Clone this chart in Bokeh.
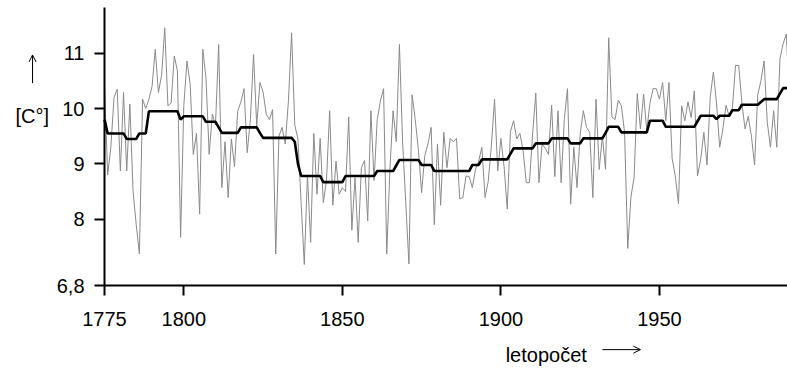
from bokeh.plotting import figure
from bokeh.models import FixedTicker, Label, Arrow, OpenHead
from bokeh.embed import file_html
from bokeh.resources import INLINE

years = list(range(1775, 1992))

annual = [
    10.4, 8.8, 9.3, 10.2, 10.35, 8.87, 10.29, 8.87, 10.08, 8.5,
    7.9, 7.37, 10.17, 10.0, 10.17, 10.4, 11.07, 10.29, 10.6, 11.46,
    10.05, 10.1, 10.95, 10.68, 7.67, 10.05, 10.86, 10.45, 9.17, 9.55,
    8.09, 11.07, 10.55, 9.17, 9.9, 9.7, 11.16, 8.57, 9.4, 8.39,
    9.45, 8.95, 9.95, 10.12, 10.36, 9.2, 9.8, 10.98, 9.68, 10.47,
    10.3, 9.9, 9.8, 9.98, 7.37, 9.5, 9.66, 9.36, 10.14, 11.37,
    9.7, 9.45, 8.3, 7.18, 8.8, 7.58, 9.55, 8.45, 9.46, 8.3,
    8.7, 9.96, 8.25, 9.05, 8.45, 8.57, 8.5, 9.85, 7.8, 8.75,
    7.58, 8.93, 9.06, 7.97, 9.96, 8.7, 9.8, 10.14, 10.36, 7.37,
    8.9, 9.96, 9.4, 11.16, 9.4, 8.3, 7.19, 10.25, 9.8, 9.24,
    8.48, 9.15, 9.36, 9.66, 7.9, 9.36, 8.25, 9.57, 8.93, 9.46,
    9.4, 9.46, 8.37, 8.39, 8.78, 8.77, 8.57, 8.9, 9.05, 9.3,
    8.39, 8.68, 9.33, 10.17, 8.87, 9.46, 8.95, 8.18, 9.58, 9.78,
    9.45, 9.55, 9.24, 8.66, 8.66, 9.54, 10.28, 8.66, 9.36, 9.28,
    9.17, 10.06, 8.77, 9.96, 8.66, 9.81, 10.36, 8.27, 9.3, 8.57,
    9.54, 9.96, 9.66, 9.57, 8.39, 10.17, 8.9, 9.5, 8.9, 11.28,
    9.85, 9.8, 10.15, 10.05, 9.57, 7.47, 8.4, 8.75, 10.27, 9.63,
    10.26, 9.6, 10.1, 10.36, 10.36, 10.17, 10.47, 9.78, 10.47, 9.1,
    8.78, 8.28, 10.05, 9.78, 10.12, 9.84, 10.32, 8.78, 9.08, 9.57,
    8.98, 10.2, 10.66, 10.1, 9.3, 9.63, 10.06, 9.86, 10.01, 10.78,
    10.78, 10.1, 9.63, 9.86, 9.5, 8.98, 10.25, 10.5, 10.86, 9.75,
    9.3, 9.96, 9.3, 10.9, 11.17, 11.35, 10.2,
]

trend = [
    9.8, 9.55, 9.55, 9.55, 9.55, 9.55, 9.55, 9.45, 9.45, 9.45,
    9.45, 9.55, 9.55, 9.55, 9.95, 9.95, 9.95, 9.95, 9.95, 9.95,
    9.95, 9.95, 9.95, 9.95, 9.8, 9.86, 9.86, 9.86, 9.86, 9.86,
    9.86, 9.86, 9.76, 9.76, 9.76, 9.76, 9.66, 9.56, 9.56, 9.56,
    9.56, 9.56, 9.56, 9.66, 9.66, 9.66, 9.66, 9.66, 9.66, 9.56,
    9.47, 9.47, 9.47, 9.47, 9.47, 9.47, 9.47, 9.47, 9.47, 9.47,
    9.4, 9.0, 8.78, 8.78, 8.78, 8.78, 8.78, 8.78, 8.78, 8.67,
    8.67, 8.67, 8.67, 8.67, 8.67, 8.67, 8.78, 8.78, 8.78, 8.78,
    8.78, 8.78, 8.78, 8.78, 8.78, 8.78, 8.87, 8.87, 8.87, 8.87,
    8.87, 8.87, 8.97, 9.07, 9.07, 9.07, 9.07, 9.07, 9.07, 9.07,
    8.98, 8.98, 8.98, 8.98, 8.87, 8.87, 8.87, 8.87, 8.87, 8.87,
    8.87, 8.87, 8.87, 8.87, 8.87, 8.87, 8.98, 8.98, 8.98, 9.08,
    9.08, 9.08, 9.08, 9.08, 9.08, 9.08, 9.08, 9.08, 9.18, 9.28,
    9.28, 9.28, 9.28, 9.28, 9.28, 9.28, 9.37, 9.37, 9.37, 9.37,
    9.37, 9.46, 9.46, 9.46, 9.46, 9.46, 9.46, 9.37, 9.37, 9.37,
    9.37, 9.46, 9.46, 9.46, 9.46, 9.46, 9.46, 9.46, 9.56, 9.67,
    9.67, 9.67, 9.67, 9.57, 9.57, 9.57, 9.57, 9.57, 9.57, 9.57,
    9.57, 9.57, 9.78, 9.78, 9.78, 9.78, 9.78, 9.67, 9.67, 9.67,
    9.67, 9.67, 9.67, 9.67, 9.67, 9.67, 9.67, 9.77, 9.87, 9.87,
    9.87, 9.87, 9.87, 9.81, 9.87, 9.87, 9.87, 9.87, 9.97, 9.97,
    9.97, 10.07, 10.07, 10.07, 10.07, 10.07, 10.07, 10.12, 10.17, 10.17,
    10.17, 10.17, 10.17, 10.27, 10.37, 10.37, 10.37,
]

x_ticks = [1775, 1800, 1850, 1900, 1950]
y_ticks = [6.8, 8, 9, 10, 11]
y_tick_labels = {6.8: "6,8", 8: "8", 9: "9", 10: "10", 11: "11"}
y_unit_label = "[C°]"
x_axis_label = "letopočet"

FONT = "Liberation Sans"

# frame spans the whole canvas; axes are pinned at 1775 / 6.8
p = figure(width=787, height=369, output_backend="svg", toolbar_location=None,
           x_range=(1742.2, 1990.38), y_range=(5.281, 11.954),
           min_border_left=0, min_border_right=0, min_border_top=0,
           min_border_bottom=0)
p.outline_line_color = None
p.xgrid.visible = False
p.ygrid.visible = False
p.background_fill_color = "white"
p.border_fill_color = "white"

p.line(years, annual, line_color="#8a8a8a", line_width=1)
p.line(years, trend, line_color="black", line_width=2.6)

for ax in (p.xaxis[0], p.yaxis[0]):
    ax.axis_line_width = 2
    ax.axis_line_color = "black"
    ax.major_tick_line_width = 2
    ax.major_tick_out = 10
    ax.major_tick_in = 0
    ax.minor_tick_out = 0
    ax.minor_tick_in = 0
    ax.major_label_text_font = FONT
    ax.major_label_text_font_size = "20px"
    ax.major_label_text_color = "black"

p.xaxis.ticker = FixedTicker(ticks=x_ticks, minor_ticks=[])
p.yaxis.ticker = FixedTicker(ticks=y_ticks, minor_ticks=[])
p.yaxis.major_label_overrides = y_tick_labels
p.xaxis.fixed_location = 6.8
p.yaxis.fixed_location = 1775
p.xaxis.bounds = (1775, 1990.38)
p.yaxis.bounds = (6.8, 11.83)
p.xaxis.major_label_standoff = 16
p.yaxis.major_label_standoff = 10

p.add_layout(Label(x=1746.9, y=9.87, text=y_unit_label, text_font=FONT,
                   text_font_size="20px", text_color="black",
                   text_baseline="alphabetic"))
p.add_layout(Arrow(end=OpenHead(size=7, line_width=1, line_color="black"),
                   x_start=1752.3, y_start=10.46, x_end=1752.3, y_end=10.97,
                   line_width=1, line_color="black"))
p.add_layout(Label(x=1901.5, y=5.55, text=x_axis_label, text_font=FONT,
                   text_font_size="20px", text_color="black",
                   text_baseline="alphabetic"))
p.add_layout(Arrow(end=OpenHead(size=7, line_width=1, line_color="black"),
                   x_start=1932.0, y_start=5.64, x_end=1944.0, y_end=5.64,
                   line_width=1, line_color="black"))

open("out.html", "w").write(file_html(p, INLINE))
